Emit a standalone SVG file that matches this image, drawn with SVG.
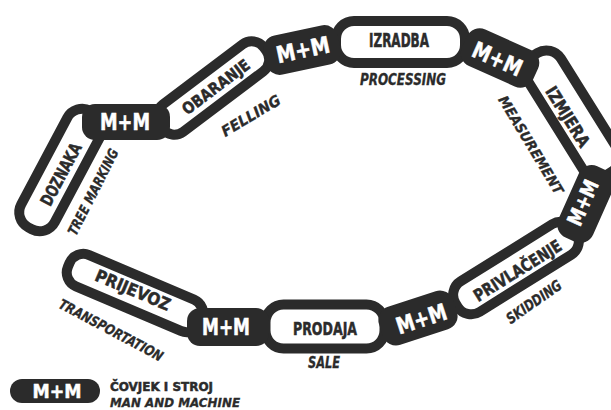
<svg xmlns="http://www.w3.org/2000/svg" width="611" height="410" viewBox="0 0 611 410">
<style>
.link{fill:#fff;stroke:#2b2b2b;stroke-width:10}
.mm{fill:#2b2b2b}
.t{font-family:"DejaVu Sans Condensed","DejaVu Sans",sans-serif;font-weight:bold;fill:#2b2b2b;stroke:#2b2b2b;stroke-width:0.5;text-anchor:middle;dominant-baseline:central}
.w{fill:#fff;stroke:#fff}
.en{font-style:italic;stroke-width:0.3}
.s{text-anchor:start}
</style>
<rect width="611" height="410" fill="#fff"/>
<g id="nodes">
<g id="doznaka" transform="translate(61,170) rotate(-62)">
<rect class="link" x="-66" y="-19" width="132" height="38" rx="17"/>
<text class="t" x="-4" y="2" font-size="17" textLength="68" lengthAdjust="spacingAndGlyphs">DOZNAKA</text>
</g>
<g id="tree-marking" transform="translate(93,192) rotate(-63)">
<text class="t en" font-size="14" textLength="95" lengthAdjust="spacingAndGlyphs">TREE MARKING</text>
</g>
<g id="obaranje" transform="translate(213,88) rotate(-37)">
<rect class="link" x="-65" y="-17" width="130" height="34" rx="15"/>
<text class="t" x="3" y="1" font-size="16" textLength="80" lengthAdjust="spacingAndGlyphs">OBARANJE</text>
</g>
<g id="felling" transform="translate(251,116) rotate(-31)">
<text class="t en" font-size="15" textLength="66" lengthAdjust="spacingAndGlyphs">FELLING</text>
</g>
<g id="izradba">
<rect class="link" x="336" y="21" width="129" height="42" rx="18"/>
<text class="t" x="399" y="40" font-size="19" textLength="60" lengthAdjust="spacingAndGlyphs">IZRADBA</text>
<text class="t en" x="403" y="80" font-size="15" textLength="86" lengthAdjust="spacingAndGlyphs">PROCESSING</text>
</g>
<g id="izmjera" transform="translate(572,114) rotate(58)">
<rect class="link" x="-70" y="-20" width="140" height="40" rx="17"/>
<text class="t" x="0" y="5" font-size="17" textLength="68" lengthAdjust="spacingAndGlyphs">IZMJERA</text>
</g>
<g id="measurement" transform="translate(531,145) rotate(59)">
<text class="t en" font-size="14" textLength="112" lengthAdjust="spacingAndGlyphs">MEASUREMENT</text>
</g>
<g id="privlacenje" transform="translate(516,268) rotate(-32)">
<rect class="link" x="-70" y="-18" width="140" height="36" rx="16"/>
<text class="t" x="0" y="3" font-size="17" textLength="100" lengthAdjust="spacingAndGlyphs">PRIVLAČENJE</text>
</g>
<g id="skidding" transform="translate(534,302) rotate(-35)">
<text class="t en" font-size="15" textLength="64" lengthAdjust="spacingAndGlyphs">SKIDDING</text>
</g>
<g id="prodaja">
<rect class="link" x="265.5" y="304.5" width="119" height="44" rx="18" stroke-width="11"/>
<text class="t" x="325" y="328" font-size="18" textLength="64" lengthAdjust="spacingAndGlyphs">PRODAJA</text>
<text class="t en" x="324" y="363" font-size="15" textLength="32" lengthAdjust="spacingAndGlyphs">SALE</text>
</g>
<g id="prijevoz" transform="translate(135,293) rotate(23)">
<rect class="link" x="-72" y="-17" width="144" height="34" rx="15"/>
<text class="t" x="-3" y="-2" font-size="17" textLength="80" lengthAdjust="spacingAndGlyphs">PRIJEVOZ</text>
</g>
<g id="transportation" transform="translate(111,330) rotate(28)">
<text class="t en" font-size="14" textLength="116" lengthAdjust="spacingAndGlyphs">TRANSPORTATION</text>
</g>
<g id="mm1" transform="translate(126,122)">
<rect class="mm" x="-44" y="-18" width="88" height="36" rx="13"/>
<text class="t w" x="-1" y="0" font-size="23" textLength="50" lengthAdjust="spacingAndGlyphs">M+M</text>
</g>
<g id="mm2" transform="translate(302,50) rotate(-12)">
<rect class="mm" x="-38" y="-20" width="76" height="40" rx="14"/>
<text class="t w" x="1" y="0" font-size="23" textLength="54" lengthAdjust="spacingAndGlyphs">M+M</text>
</g>
<g id="mm3" transform="translate(500,58) rotate(24)">
<rect class="mm" x="-39" y="-20" width="78" height="40" rx="14"/>
<text class="t w" x="-2" y="2" font-size="23" textLength="52" lengthAdjust="spacingAndGlyphs">M+M</text>
</g>
<g id="mm4" transform="translate(586,204) rotate(-66)">
<rect class="mm" x="-39" y="-19" width="78" height="38" rx="14"/>
<text class="t w" x="0" y="-3" font-size="21" textLength="48" lengthAdjust="spacingAndGlyphs">M+M</text>
</g>
<g id="mm5" transform="translate(418,318) rotate(-18)">
<rect class="mm" x="-39" y="-20" width="78" height="40" rx="14"/>
<text class="t w" x="3" y="2" font-size="23" textLength="52" lengthAdjust="spacingAndGlyphs">M+M</text>
</g>
<g id="mm6" transform="translate(228,327)">
<rect class="mm" x="-41" y="-19" width="82" height="38" rx="13"/>
<text class="t w" x="-2" y="0" font-size="23" textLength="48" lengthAdjust="spacingAndGlyphs">M+M</text>
</g>
</g>
<g id="legend">
<rect class="mm" x="10" y="379" width="90" height="24" rx="12"/>
<text class="t w" x="57" y="391" font-size="20" textLength="49" lengthAdjust="spacingAndGlyphs">M+M</text>
<text class="t s" x="110" y="386" font-size="13" textLength="103" lengthAdjust="spacingAndGlyphs">ČOVJEK I STROJ</text>
<text class="t en s" x="110" y="402" font-size="13" textLength="130" lengthAdjust="spacingAndGlyphs">MAN AND MACHINE</text>
</g>
</svg>
